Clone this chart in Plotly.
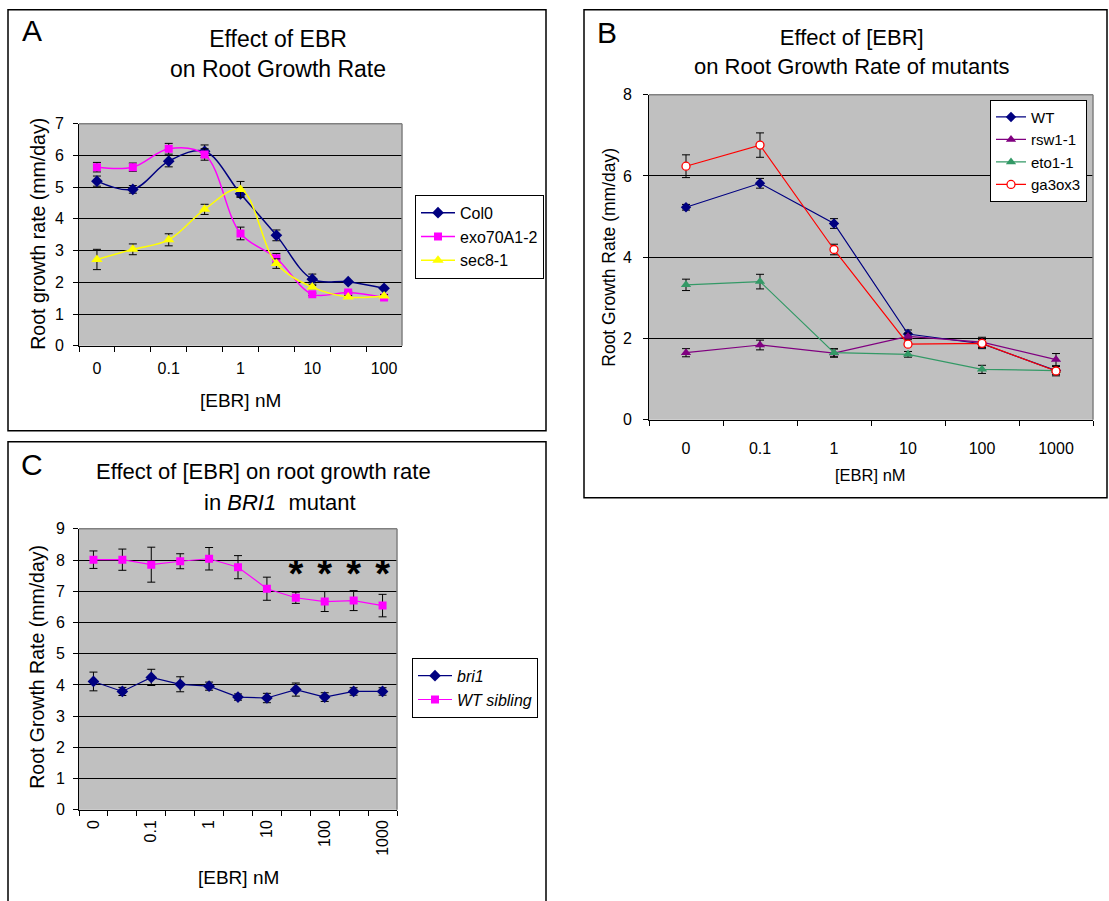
import plotly.graph_objects as go

W, H = 1109, 901
FONT = "Liberation Sans, Arial, sans-serif"


def px(x):
    return x / W


def py(y):
    # vertical pixel position -> paper fraction (compensates the observed
    # vertical scaling of the screenshot)
    yd = (y - 7.3) / 0.981
    return 1 - yd / H


# ---------------- Panel A data ----------------
a_conc = ["0", "0.03", "0.1", "0.3", "1", "3", "10", "30", "100"]
a_ticktext = ["0", "", "0.1", "", "1", "", "10", "", "100"]
a_col0 = [5.19, 4.93, 5.82, 6.13, 4.79, 3.48, 2.10, 2.02, 1.81]
a_col0_err = [0.16, 0.12, 0.18, 0.2, 0.09, 0.17, 0.16, 0.03, 0.03]
a_exo = [5.63, 5.63, 6.21, 6.03, 3.54, 2.76, 1.62, 1.68, 1.52]
a_exo_err = [0.15, 0.13, 0.17, 0.18, 0.2, 0.15, 0.04, 0.04, 0.04]
a_sec = [2.72, 3.04, 3.34, 4.30, 4.93, 2.59, 1.85, 1.54, 1.57]
a_sec_err = [0.32, 0.17, 0.19, 0.16, 0.25, 0.15, 0.05, 0.04, 0.04]
a_yticks = [0, 1, 2, 3, 4, 5, 6, 7]

# ---------------- Panel B data ----------------
b_conc = ["0", "0.1", "1", "10", "100", "1000"]
b_wt = [5.23, 5.82, 4.83, 2.11, 1.87, 1.21]
b_wt_err = [0.07, 0.12, 0.12, 0.1, 0.12, 0.1]
b_rsw = [1.65, 1.84, 1.64, 2.05, 1.91, 1.48]
b_rsw_err = [0.1, 0.12, 0.1, 0.08, 0.12, 0.15]
b_eto = [3.32, 3.40, 1.65, 1.61, 1.24, 1.21]
b_eto_err = [0.14, 0.18, 0.1, 0.07, 0.1, 0.05]
b_ga = [6.24, 6.76, 4.19, 1.86, 1.88, 1.20]
b_ga_err = [0.28, 0.3, 0.13, 0.05, 0.1, 0.12]
b_yticks = [0, 2, 4, 6, 8]

# ---------------- Panel C data ----------------
c_conc = ["0", "0.03", "0.1", "0.3", "1", "3", "10", "30", "100", "300", "1000"]
c_ticktext = ["0", "", "0.1", "", "1", "", "10", "", "100", "", "1000"]
c_bri1 = [4.11, 3.79, 4.24, 4.02, 3.96, 3.61, 3.58, 3.85, 3.61, 3.79, 3.79]
c_bri1_err = [0.3, 0.13, 0.26, 0.24, 0.13, 0.1, 0.15, 0.21, 0.14, 0.12, 0.12]
c_wt = [8.01, 8.01, 7.85, 7.96, 8.04, 7.77, 7.08, 6.79, 6.67, 6.70, 6.54]
c_wt_err = [0.28, 0.34, 0.56, 0.24, 0.36, 0.37, 0.37, 0.18, 0.32, 0.32, 0.36]
c_star_conc = ["30", "100", "300", "1000"]
c_star_y = [7.43, 7.43, 7.43, 7.43]
c_yticks = [0, 1, 2, 3, 4, 5, 6, 7, 8, 9]

NAVY = "#000080"
MAGENTA = "#FF00FF"
YELLOW = "#FFFF00"
PURPLE = "#800080"
GREEN = "#339966"
RED = "#FF0000"

fig = go.Figure()


def err(arr, w=4):
    return dict(type="data", array=arr, color="black", thickness=1, width=w, visible=True)


# Panel A traces
fig.add_trace(go.Scatter(x=a_conc, y=a_col0, name="Col0", mode="lines+markers",
                         line=dict(color=NAVY, width=1.5, shape="spline"),
                         marker=dict(symbol="diamond", size=9, color=NAVY),
                         error_y=err(a_col0_err), xaxis="x", yaxis="y", legend="legend",
                         legendgroup="a1"))
fig.add_trace(go.Scatter(x=a_conc, y=a_exo, name="exo70A1-2", mode="lines+markers",
                         line=dict(color=MAGENTA, width=1.5, shape="spline"),
                         marker=dict(symbol="square", size=8, color=MAGENTA),
                         error_y=err(a_exo_err), xaxis="x", yaxis="y", legend="legend",
                         legendgroup="a2"))
fig.add_trace(go.Scatter(x=a_conc, y=a_sec, name="sec8-1", mode="lines+markers",
                         line=dict(color=YELLOW, width=1.5, shape="spline"),
                         marker=dict(symbol="triangle-up", size=10, color=YELLOW),
                         error_y=err(a_sec_err), xaxis="x", yaxis="y", legend="legend",
                         legendgroup="a3"))

# Panel B traces
fig.add_trace(go.Scatter(x=b_conc, y=b_wt, name="WT", mode="lines+markers",
                         line=dict(color=NAVY, width=1.2),
                         marker=dict(symbol="diamond", size=8, color=NAVY),
                         error_y=err(b_wt_err), xaxis="x2", yaxis="y2", legend="legend2",
                         legendgroup="b1"))
fig.add_trace(go.Scatter(x=b_conc, y=b_rsw, name="rsw1-1", mode="lines+markers",
                         line=dict(color=PURPLE, width=1.2),
                         marker=dict(symbol="triangle-up", size=9, color=PURPLE),
                         error_y=err(b_rsw_err), xaxis="x2", yaxis="y2", legend="legend2",
                         legendgroup="b2"))
fig.add_trace(go.Scatter(x=b_conc, y=b_eto, name="eto1-1", mode="lines+markers",
                         line=dict(color=GREEN, width=1.2),
                         marker=dict(symbol="triangle-up", size=9, color=GREEN),
                         error_y=err(b_eto_err), xaxis="x2", yaxis="y2", legend="legend2",
                         legendgroup="b3"))
fig.add_trace(go.Scatter(x=b_conc, y=b_ga, name="ga3ox3", mode="lines+markers",
                         line=dict(color=RED, width=1.2),
                         marker=dict(symbol="circle", size=8, color="white",
                                     line=dict(color=RED, width=1.3)),
                         error_y=err(b_ga_err), xaxis="x2", yaxis="y2", legend="legend2",
                         legendgroup="b4"))

# Panel C traces
fig.add_trace(go.Scatter(x=c_conc, y=c_bri1, name="<i>bri1</i>", mode="lines+markers",
                         line=dict(color=NAVY, width=1.2),
                         marker=dict(symbol="diamond", size=9, color=NAVY),
                         error_y=err(c_bri1_err), xaxis="x3", yaxis="y3", legend="legend3",
                         legendgroup="c1"))
fig.add_trace(go.Scatter(x=c_conc, y=c_wt, name="<i>WT sibling</i>", mode="lines+markers",
                         line=dict(color=MAGENTA, width=1.2),
                         marker=dict(symbol="square", size=8, color=MAGENTA),
                         error_y=err(c_wt_err), xaxis="x3", yaxis="y3", legend="legend3",
                         legendgroup="c2"))
fig.add_trace(go.Scatter(x=c_star_conc, y=c_star_y, mode="text",
                         text=["<b>*</b>"] * len(c_star_conc),
                         textfont=dict(family=FONT, size=38, color="black"),
                         textposition="middle center", showlegend=False,
                         xaxis="x3", yaxis="y3", hoverinfo="skip"))


def xaxis(domain, cats, ticktext, anchor, fsize, standoff, angle=0):
    return dict(domain=domain, type="category", categoryorder="array", categoryarray=cats,
                range=[-0.5, len(cats) - 0.5], tickmode="array", tickvals=cats,
                ticktext=ticktext, tickson="boundaries", ticks="outside", ticklen=5,
                tickcolor="black", tickwidth=1, showline=True, linecolor="black",
                linewidth=1, showgrid=False, zeroline=False, anchor=anchor,
                tickfont=dict(family=FONT, size=fsize, color="black"),
                ticklabelstandoff=standoff, tickangle=angle, fixedrange=True)


def yaxis(domain, ticks, anchor, fsize, standoff):
    return dict(domain=domain, range=[ticks[0], ticks[-1]], tickmode="array", tickvals=ticks,
                ticks="outside", ticklen=5, tickcolor="black", tickwidth=1,
                showline=True, linecolor="black", linewidth=1, showgrid=True,
                gridcolor="black", gridwidth=1, zeroline=False, anchor=anchor,
                tickfont=dict(family=FONT, size=fsize, color="black"),
                ticklabelstandoff=standoff, fixedrange=True)


# plot areas (pixels)
A_L, A_R, A_T, A_B = 79, 402, 123, 345
B_L, B_R, B_T, B_B = 649, 1093, 94, 419
C_L, C_R, C_T, C_B = 79, 397, 528, 809

legend_common = dict(bgcolor="white", bordercolor="black", borderwidth=1,
                     xanchor="left", yanchor="top",
                     itemclick=False, itemdoubleclick=False)

fig.update_layout(
    width=W, height=H, margin=dict(l=0, r=0, t=0, b=0),
    paper_bgcolor="white", plot_bgcolor="#C0C0C0",
    font=dict(family=FONT, color="black"),
    xaxis=xaxis([px(A_L), px(A_R)], a_conc, a_ticktext, "y", 16, 8),
    yaxis=yaxis([py(A_B), py(A_T)], a_yticks, "x", 16, 6),
    xaxis2=xaxis([px(B_L), px(B_R)], b_conc, b_conc, "y2", 16, 14),
    yaxis2=yaxis([py(B_B), py(B_T)], b_yticks, "x2", 16, 8),
    xaxis3=xaxis([px(C_L), px(C_R)], c_conc, c_ticktext, "y3", 16, 3, angle=-90),
    yaxis3=yaxis([py(C_B), py(C_T)], c_yticks, "x3", 16, 5),
    legend=dict(x=px(415), y=py(194), font=dict(family=FONT, size=16, color="black"),
                itemwidth=34, tracegroupgap=0, **legend_common),
    legend2=dict(x=px(990), y=py(99), font=dict(family=FONT, size=15, color="black"),
                 itemwidth=30, tracegroupgap=0, **legend_common),
    legend3=dict(x=px(412), y=py(657), font=dict(family=FONT, size=16, color="black"),
                 itemwidth=34, tracegroupgap=0, **legend_common),
    showlegend=True,
)

shapes = []
# panel frames
for (x0, y0, x1, y1) in [(8, 9, 546, 430), (584, 9, 1107, 497), (8, 441, 546, 930)]:
    shapes.append(dict(type="rect", xref="paper", yref="paper", x0=px(x0), x1=px(x1),
                       y0=py(y1), y1=py(y0), line=dict(color="black", width=1.5),
                       fillcolor="rgba(0,0,0,0)", layer="below"))
# gray top/right borders of plot areas
for ax in ["", "2", "3"]:
    shapes.append(dict(type="line", xref=f"x{ax} domain", yref=f"y{ax} domain",
                       x0=0, x1=1, y0=1, y1=1, line=dict(color="#808080", width=1.5),
                       layer="above"))
    shapes.append(dict(type="line", xref=f"x{ax} domain", yref=f"y{ax} domain",
                       x0=1, x1=1, y0=0, y1=1, line=dict(color="#808080", width=1.5),
                       layer="above"))
fig.update_layout(shapes=shapes)


def ann(text, x, y, size, angle=0):
    return dict(text=text, x=px(x), y=py(y), xref="paper", yref="paper",
                xanchor="center", yanchor="middle", showarrow=False, textangle=angle,
                font=dict(family=FONT, size=size, color="black"), align="center")


annotations = [
    ann("A", 32, 30, 30),
    ann("Effect of EBR<br>on Root Growth Rate", 278, 53, 23),
    ann("Root growth rate (mm/day)", 38, 233, 19.5, angle=-90),
    ann("[EBR] nM", 240, 400, 19),
    ann("B", 607, 32, 30),
    ann("Effect of [EBR]<br>on Root Growth Rate of mutants", 852, 51, 22),
    ann("Root Growth Rate (mm/day)", 609, 257, 17.5, angle=-90),
    ann("[EBR] nM", 870, 474, 16.5),
    ann("C", 32, 464, 30),
    ann("Effect of [EBR] on root growth rate", 263, 471, 22),
    ann("in <i>BRI1</i>  mutant", 280, 502, 22),
    ann("Root Growth Rate (mm/day)", 37, 666, 19.5, angle=-90),
    ann("[EBR] nM", 238, 877, 19),
]
fig.update_layout(annotations=annotations)

fig.write_html("out.html")
